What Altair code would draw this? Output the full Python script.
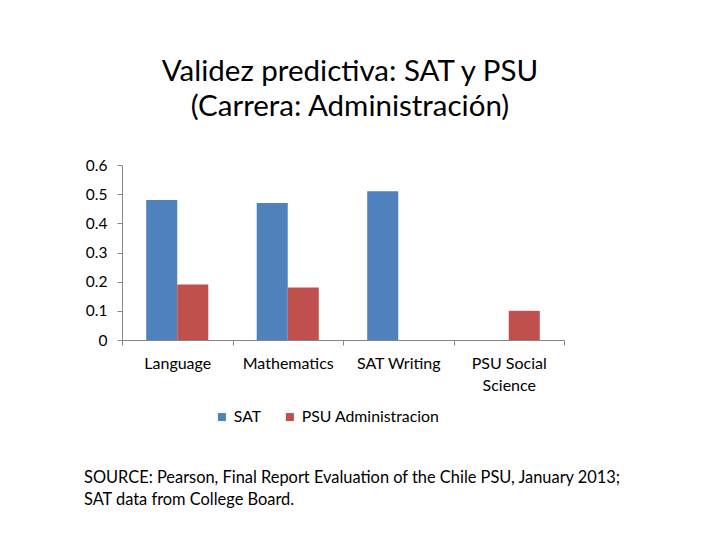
import altair as alt
import pandas as pd

categories = ["Language", "Mathematics", "SAT Writing", "PSU Social Science"]
series = ["SAT", "PSU Administracion"]
sat_values = [0.48, 0.47, 0.51, None]
psu_values = [0.19, 0.18, None, 0.10]
y_ticks = [0, 0.1, 0.2, 0.3, 0.4, 0.5, 0.6]
colors = ["#4F81BD", "#C0504D"]
title_lines = ["Validez predictiva: SAT y PSU", "(Carrera: Administración)"]
source_lines = [
    "SOURCE: Pearson, Final Report Evaluation of the Chile PSU, January 2013;",
    "SAT data from College Board.",
]

rows = []
for c, s, p in zip(categories, sat_values, psu_values):
    if s is not None:
        rows.append({"cat": c, "serie": series[0], "val": s})
    if p is not None:
        rows.append({"cat": c, "serie": series[1], "val": p})
df = pd.DataFrame(rows)

FONT = "Lato"
W, H = 442, 175

bars = alt.Chart(df).mark_bar().encode(
    x=alt.X("cat:N", sort=categories, title=None,
            scale=alt.Scale(domain=categories, paddingInner=0, paddingOuter=0),
            axis=alt.Axis(labelAngle=0, tickBand="extent", ticks=True, tickSize=5,
                          domainColor="#868686", tickColor="#868686",
                          labelColor="#000000", labelFont=FONT, labelFontSize=16,
                          labelPadding=10, labelLineHeight=22, labelBaseline="top",
                          labelExpr="datum.value == 'PSU Social Science' ? ['PSU Social', 'Science'] : datum.value")),
    xOffset=alt.XOffset("serie:N", sort=series,
                        scale=alt.Scale(domain=series, paddingInner=0, paddingOuter=0.78)),
    y=alt.Y("val:Q", title=None,
            scale=alt.Scale(domain=[0, 0.6], nice=False),
            axis=alt.Axis(values=y_ticks, grid=False, tickSize=5,
                          domainColor="#868686", tickColor="#868686",
                          labelColor="#000000", labelFont=FONT, labelFontSize=15.5,
                          labelPadding=10,
                          labelExpr="datum.value == 0 ? '0' : format(datum.value, '.1f')")),
    color=alt.Color("serie:N", sort=series,
                    scale=alt.Scale(domain=series, range=colors),
                    legend=alt.Legend(title=None, orient="none", direction="horizontal",
                                      legendX=92, legendY=244, symbolType="square",
                                      symbolSize=64, symbolStrokeWidth=0,
                                      labelFont=FONT, labelFontSize=15.8, labelColor="#000000",
                                      labelOffset=4, columnPadding=20)),
)

source = alt.Chart(pd.DataFrame({"t": ["\n".join(source_lines)]})).mark_text(
    align="left", baseline="top", font=FONT, fontSize=16.4, color="#000000",
    lineBreak="\n", lineHeight=22,
).encode(text="t:N", x=alt.value(-38), y=alt.value(305))

chart = alt.layer(bars, source).properties(
    width=W, height=H,
    title=alt.TitleParams(title_lines, font=FONT, fontSize=29.5, fontWeight="normal",
                          color="#000000", anchor="middle", offset=36, lineHeight=35, dx=7),
    autosize=alt.AutoSizeParams(type="none"),
    padding={"left": 114, "top": 157, "right": 148, "bottom": 192},
).configure_view(stroke=None)

chart.save("out.html", embed_options={"renderer": "svg", "actions": False})
